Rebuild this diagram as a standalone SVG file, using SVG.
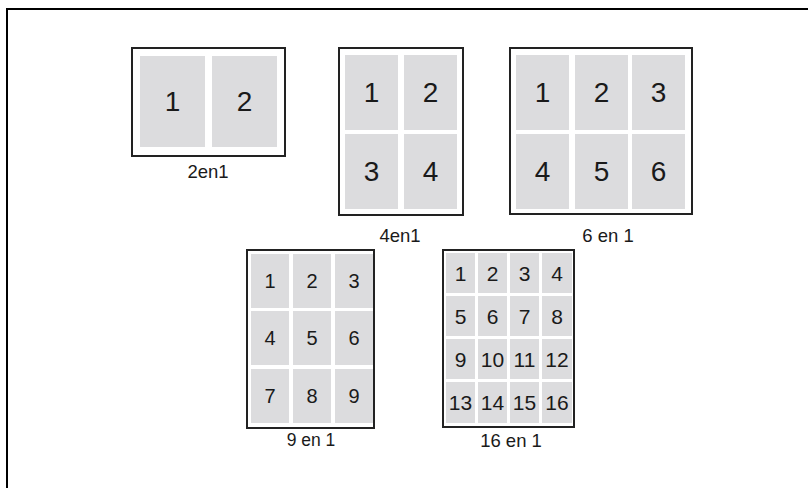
<svg xmlns="http://www.w3.org/2000/svg" width="808" height="488" viewBox="0 0 808 488">
<style>
.frame{fill:none;stroke:#000;stroke-width:2}
.box{fill:#fff;stroke:#222;stroke-width:2}
.cell{fill:#dcdcde}
text{font-family:"Liberation Sans",Arial,sans-serif;fill:#1a1a1a;text-anchor:middle}
.big{font-size:28px}
.mid{font-size:20px}
.sm{font-size:21px}
.lbl{font-size:18.5px}
.lbl2{font-size:17.5px}
</style>
<rect width="808" height="488" fill="#fff"/>
<g id="frame"><path class="frame" d="M808 9H7V488"/></g>
<g id="connectors"></g>
<g id="n2en1">
<rect class="box" x="132" y="48" width="153" height="108"/>
<rect class="cell" x="140" y="56" width="65" height="91"/>
<rect class="cell" x="212" y="56" width="65" height="91"/>
<text class="big" x="172.5" y="111">1</text>
<text class="big" x="244.5" y="111">2</text>
<text class="lbl" x="208" y="178">2en1</text>
</g>
<g id="n4en1">
<rect class="box" x="339" y="48" width="124" height="167"/>
<rect class="cell" x="345" y="55" width="53" height="75"/>
<rect class="cell" x="404" y="55" width="53" height="75"/>
<rect class="cell" x="345" y="134" width="53" height="75"/>
<rect class="cell" x="404" y="134" width="53" height="75"/>
<text class="big" x="371.5" y="102">1</text>
<text class="big" x="430.5" y="102">2</text>
<text class="big" x="371.5" y="181">3</text>
<text class="big" x="430.5" y="181">4</text>
<text class="lbl" x="400" y="242">4en1</text>
</g>
<g id="n6en1">
<rect class="box" x="510" y="48" width="182" height="166"/>
<rect class="cell" x="516" y="55" width="53" height="75"/>
<rect class="cell" x="575" y="55" width="53" height="75"/>
<rect class="cell" x="632" y="55" width="53" height="75"/>
<rect class="cell" x="516" y="134" width="53" height="75"/>
<rect class="cell" x="575" y="134" width="53" height="75"/>
<rect class="cell" x="632" y="134" width="53" height="75"/>
<text class="big" x="542.5" y="102">1</text>
<text class="big" x="601.5" y="102">2</text>
<text class="big" x="658.5" y="102">3</text>
<text class="big" x="542.5" y="181">4</text>
<text class="big" x="601.5" y="181">5</text>
<text class="big" x="658.5" y="181">6</text>
<text class="lbl" x="608" y="242">6 en 1</text>
</g>
<g id="n9en1">
<rect class="box" x="247" y="250" width="127" height="178"/>
<rect class="cell" x="251" y="254" width="38" height="54"/>
<rect class="cell" x="293" y="254" width="38" height="54"/>
<rect class="cell" x="335" y="254" width="38" height="54"/>
<rect class="cell" x="251" y="311" width="38" height="54"/>
<rect class="cell" x="293" y="311" width="38" height="54"/>
<rect class="cell" x="335" y="311" width="38" height="54"/>
<rect class="cell" x="251" y="369" width="38" height="54"/>
<rect class="cell" x="293" y="369" width="38" height="54"/>
<rect class="cell" x="335" y="369" width="38" height="54"/>
<text class="mid" x="270" y="288">1</text>
<text class="mid" x="312" y="288">2</text>
<text class="mid" x="354" y="288">3</text>
<text class="mid" x="270" y="345">4</text>
<text class="mid" x="312" y="345">5</text>
<text class="mid" x="354" y="345">6</text>
<text class="mid" x="270" y="403">7</text>
<text class="mid" x="312" y="403">8</text>
<text class="mid" x="354" y="403">9</text>
<text class="lbl2" x="311" y="446">9 en 1</text>
</g>
<g id="n16en1">
<rect class="box" x="443" y="250" width="131" height="177"/>
<rect class="cell" x="446" y="253" width="29" height="40"/>
<rect class="cell" x="478" y="253" width="29" height="40"/>
<rect class="cell" x="510" y="253" width="29" height="40"/>
<rect class="cell" x="542" y="253" width="30" height="40"/>
<rect class="cell" x="446" y="296" width="29" height="40"/>
<rect class="cell" x="478" y="296" width="29" height="40"/>
<rect class="cell" x="510" y="296" width="29" height="40"/>
<rect class="cell" x="542" y="296" width="30" height="40"/>
<rect class="cell" x="446" y="339" width="29" height="40"/>
<rect class="cell" x="478" y="339" width="29" height="40"/>
<rect class="cell" x="510" y="339" width="29" height="40"/>
<rect class="cell" x="542" y="339" width="30" height="40"/>
<rect class="cell" x="446" y="382" width="29" height="41"/>
<rect class="cell" x="478" y="382" width="29" height="41"/>
<rect class="cell" x="510" y="382" width="29" height="41"/>
<rect class="cell" x="542" y="382" width="30" height="41"/>
<text class="sm" x="460.5" y="281">1</text>
<text class="sm" x="492.5" y="281">2</text>
<text class="sm" x="524.5" y="281">3</text>
<text class="sm" x="557" y="281">4</text>
<text class="sm" x="460.5" y="324">5</text>
<text class="sm" x="492.5" y="324">6</text>
<text class="sm" x="524.5" y="324">7</text>
<text class="sm" x="557" y="324">8</text>
<text class="sm" x="460.5" y="367">9</text>
<text class="sm" x="492.5" y="367">10</text>
<text class="sm" x="524.5" y="367">11</text>
<text class="sm" x="557" y="367">12</text>
<text class="sm" x="460.5" y="410">13</text>
<text class="sm" x="492.5" y="410">14</text>
<text class="sm" x="524.5" y="410">15</text>
<text class="sm" x="557" y="410">16</text>
<text class="lbl" x="511" y="447">16 en 1</text>
</g>
</svg>
